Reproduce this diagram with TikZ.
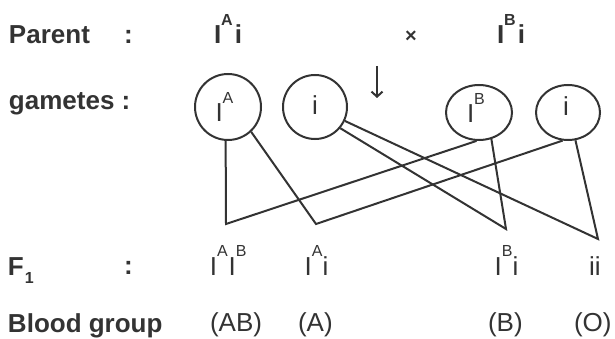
\documentclass[tikz,border=0pt]{standalone}
\usepackage{fontspec}
\setmainfont{Liberation Sans}
\usetikzlibrary{shapes.geometric,arrows.meta}
\definecolor{ink}{HTML}{333333}
\newcommand\sups[1]{\raisebox{18.6pt}{\fontsize{16}{16}\selectfont #1}}
\begin{document}
\begin{tikzpicture}[x=1pt,y=-1pt,
  lbl/.style={inner sep=0pt,outer sep=0pt,text=ink,font=\fontsize{26}{30}\selectfont},
  gamete/.style={draw=ink,line width=2pt,ellipse,inner sep=0pt},
  conn/.style={draw=ink,line width=2pt,line join=miter}]
\useasboundingbox (0,0) rectangle (615,339);
% left labels
\node[lbl,anchor=base west] (parent) at (9,44) {\bfseries Parent};
\node[lbl,anchor=base] (pcolon) at (128.5,44) {\bfseries :};
\node[lbl,anchor=base west] (gam) at (9,110) {\bfseries gametes :};
\node[lbl,anchor=base west] (f1) at (8,275) {\bfseries F\kern1pt\raisebox{-8pt}{\fontsize{16}{16}\selectfont 1}};
\node[lbl,anchor=base] (fcolon) at (128.5,274) {\bfseries :};
\node[lbl,anchor=base west] (bg) at (8,332) {\bfseries Blood group};
% parents
\node[lbl,anchor=base west] (p1) at (214,44) {\bfseries I\sups{A}\kern2pt i};
\node[lbl] (cross) at (411,37) {\bfseries\fontsize{20}{20}\selectfont ×};
\node[lbl,anchor=base west] (p2) at (497,44) {\bfseries I\sups{B}\kern2pt i};
% arrow
\coordinate (atop) at (377,66);
\coordinate (abot) at (377,98);
\draw[conn,-{Straight Barb[length=5pt,width=11pt]}] (atop) -- (abot);
% gametes
\node[gamete,minimum width=66pt,minimum height=66pt] (g1) at (228,107) {};
\node[gamete,minimum width=64pt,minimum height=64pt] (g2) at (315,107) {};
\node[gamete,minimum width=66pt,minimum height=55pt] (gB) at (479,112.5) {};
\node[gamete,minimum width=64pt,minimum height=55pt] (g4) at (568,112.5) {};
\node[lbl,anchor=base west] (t1) at (215.5,122) {I\sups{A}};
\node[lbl,anchor=base west] (t2) at (312,115) {i};
\node[lbl,anchor=base west] (t3) at (467,123) {I\sups{B}};
\node[lbl,anchor=base west] (t4) at (563,116) {i};
% vertices
\coordinate (v1) at (226,224);
\coordinate (v2) at (316,224);
\coordinate (v3) at (506,229);
\coordinate (v4) at (598,239);
\draw[conn] (g1.-94) -- (v1) -- (gB.-95);
\draw[conn] (g1.-47) -- (v2) -- (g4.-101);
\draw[conn] (g2.-40) -- (v3) -- (gB.-65);
\draw[conn] (g2.-25) -- (v4) -- (g4.-75);
% F1
\node[lbl,anchor=base west] (f11) at (209.8,275) {I\sups{A}\kern1pt I\sups{B}};
\node[lbl,anchor=base west] (f12) at (304.6,275) {I\sups{A}i};
\node[lbl,anchor=base west] (f13) at (494.6,275) {I\sups{B}i};
\node[lbl,anchor=base west] (f14) at (589,275) {ii};
% blood groups
\node[lbl,anchor=base west] (b1) at (210,331) {(AB)};
\node[lbl,anchor=base west] (b2) at (298,331) {(A)};
\node[lbl,anchor=base west] (b3) at (488,331) {(B)};
\node[lbl,anchor=base west] (b4) at (574,331) {(O)};
\end{tikzpicture}
\end{document}
